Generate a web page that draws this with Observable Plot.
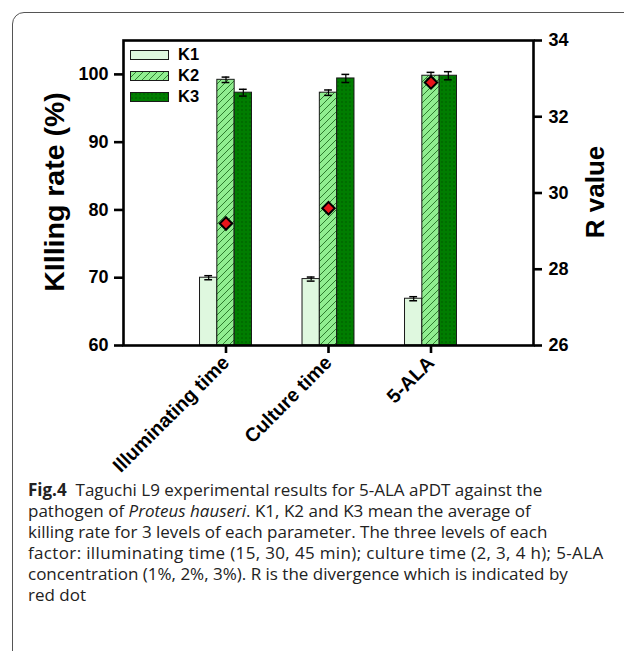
<!DOCTYPE html>
<html>
<head>
<meta charset="utf-8">
<script src="https://cdn.jsdelivr.net/npm/d3@7"></script>
<script src="https://cdn.jsdelivr.net/npm/@observablehq/plot@0.6"></script>
<style>
  html, body { margin: 0; padding: 0; width: 624px; height: 651px; overflow: hidden; background: #fff; }
  #box { position: absolute; left: 12px; top: 12px; width: 700px; height: 700px; border: 1px solid #555; border-radius: 12px; box-sizing: border-box; }
  #chart { position: absolute; left: 0; top: 0; }
  #legend { position: absolute; left: 130px; top: 44px; font-family: "Liberation Sans", Arial, sans-serif; font-weight: bold; font-size: 16.5px; }
  .lg { display: flex; align-items: center; height: 21px; }
  .lg svg { margin-right: 9px; }
  #caption { position: absolute; left: 28px; top: 479px; font-family: "Open Sans", "Noto Sans", sans-serif; font-size: 17px; line-height: 21px; color: #222; white-space: nowrap; }
  .wide { letter-spacing: 0.35px; }
</style>
</head>
<body>
<svg width="0" height="0" style="position:absolute">
  <defs>
    <pattern id="hatchK2" patternUnits="userSpaceOnUse" width="7" height="7">
      <rect width="7" height="7" fill="#90ee90"></rect>
      <path d="M0,7 L7,0 M-1,1 L1,-1 M6,8 L8,6" stroke="#2e7d2e" stroke-width="1"></path>
    </pattern>
    <pattern id="dotsK3" patternUnits="userSpaceOnUse" width="4" height="4">
      <rect width="4" height="4" fill="#007d00"></rect>
      <rect x="1.5" y="1.5" width="1" height="1" fill="#003a00"></rect>
    </pattern>
  </defs>
</svg>
<div id="box"></div>
<div id="chart"></div>
<div id="legend"></div>
<div id="caption">
  <b>Fig.4</b>&nbsp; Taguchi L9 experimental results for 5-ALA aPDT against the<br>
  pathogen of <i>Proteus hauseri</i>. K1, K2 and K3 mean the average of<br>
  killing rate for 3 levels of each parameter. The three levels of each<br>
  <span class="wide">factor: illuminating time (15, 30, 45 min); culture time (2, 3, 4 h); 5-ALA</span><br>
  concentration (1%, 2%, 3%). R is the divergence which is indicated by<br>
  red dot
</div>
<script>
// ---- data ----
const categories = ["Illuminating time", "Culture time", "5-ALA"];
const seriesKeys = ["K1", "K2", "K3"];
const k1Values = [70.0, 69.8, 66.9];
const k2Values = [99.2, 97.3, 99.8];
const k3Values = [97.3, 99.4, 99.8];
const k1Errors = [0.3, 0.3, 0.3];
const k2Errors = [0.4, 0.4, 0.5];
const k3Errors = [0.5, 0.6, 0.6];
const rValues = [29.2, 29.6, 32.9];
const leftTicks = [60, 70, 80, 90, 100];
const rightTicks = [26, 28, 30, 32, 34];

// ---- styles ----
const fills = {K1: "#dff8df", K2: "url(#hatchK2)", K3: "url(#dotsK3)"};

// secondary axis mapping: R [26,34] <-> killing [60,105]
const rToY = r => 60 + (r - 26) * 45 / 8;
const yToR = y => 26 + (y - 60) * 8 / 45;

const bw = 0.169; // bar width in x units
const rows = [];
const valueSets = [k1Values, k2Values, k3Values];
const errSets = [k1Errors, k2Errors, k3Errors];
categories.forEach((c, i) => {
  seriesKeys.forEach((k, j) => {
    const xc = i + 1 + (j - 1) * bw;
    rows.push({cat: c, key: k, value: valueSets[j][i], err: errSets[j][i], x1: xc - bw / 2, x2: xc + bw / 2, xc});
  });
});
const rRows = categories.map((c, i) => ({cat: c, x: i + 1, r: rValues[i], y: rToY(rValues[i])}));
const cap = 0.038;

const plot = Plot.plot({
  width: 624,
  height: 460,
  marginLeft: 123,
  marginRight: 91,
  marginTop: 40,
  marginBottom: 115,
  style: {fontFamily: "'Liberation Sans', Arial, sans-serif", fontWeight: "bold", fontSize: "18px", color: "#000", background: "transparent", overflow: "visible"},
  x: {domain: [0, 4], axis: null},
  y: {domain: [60, 105], axis: null},
  marks: [
    Plot.rectY(rows, {x1: "x1", x2: "x2", y1: 60, y2: "value", fill: d => fills[d.key], stroke: "#1a1a1a", strokeWidth: 1}),
    Plot.ruleX(rows, {x: "xc", y1: d => d.value - d.err, y2: d => d.value + d.err, stroke: "#000", strokeWidth: 1.2}),
    Plot.ruleY(rows, {y: d => d.value + d.err, x1: d => d.xc - cap, x2: d => d.xc + cap, stroke: "#000", strokeWidth: 1.5}),
    Plot.ruleY(rows, {y: d => d.value - d.err, x1: d => d.xc - cap, x2: d => d.xc + cap, stroke: "#000", strokeWidth: 1.5}),
    Plot.dot(rRows, {x: "x", y: "y", symbol: "diamond2", r: 5.6, fill: "#e8141a", stroke: "#000", strokeWidth: 2}),
    Plot.frame({stroke: "#000", strokeWidth: 2.6}),
    Plot.axisY({anchor: "left", ticks: leftTicks, tickSize: 9, tickPadding: 6, strokeWidth: 2.6, fontSize: 18, label: null}),
    Plot.axisY({anchor: "right", ticks: rightTicks.map(rToY), tickFormat: v => String(Math.round(yToR(v))), tickSize: 8, tickPadding: 7, strokeWidth: 2.6, fontSize: 18, label: null}),
    Plot.axisX({anchor: "bottom", ticks: [1, 2, 3], tickFormat: v => categories[v - 1], tickRotate: -45, tickSize: 8, tickPadding: 6, strokeWidth: 2.6, fontSize: 19.5, label: null}),
    Plot.text(["KIlling rate (%)"], {frameAnchor: "left", textAnchor: "middle", rotate: -90, dx: -69, dy: -1, fontSize: 28.5, fontWeight: "bold", fill: "#000"}),
    Plot.text(["R value"], {frameAnchor: "right", textAnchor: "middle", rotate: -90, dx: 62, dy: -1, fontSize: 26, fontWeight: "bold", fill: "#000"})
  ]
});
document.getElementById("chart").appendChild(plot);

// legend
const legend = document.getElementById("legend");
seriesKeys.forEach(k => {
  const row = document.createElement("div");
  row.className = "lg";
  row.innerHTML = `<svg width="39" height="10"><rect x="0.5" y="0.5" width="38" height="9" fill="${fills[k]}" stroke="#1a1a1a" stroke-width="1"></rect></svg><span>${k}</span>`;
  legend.appendChild(row);
});
</script>
</body>
</html>
